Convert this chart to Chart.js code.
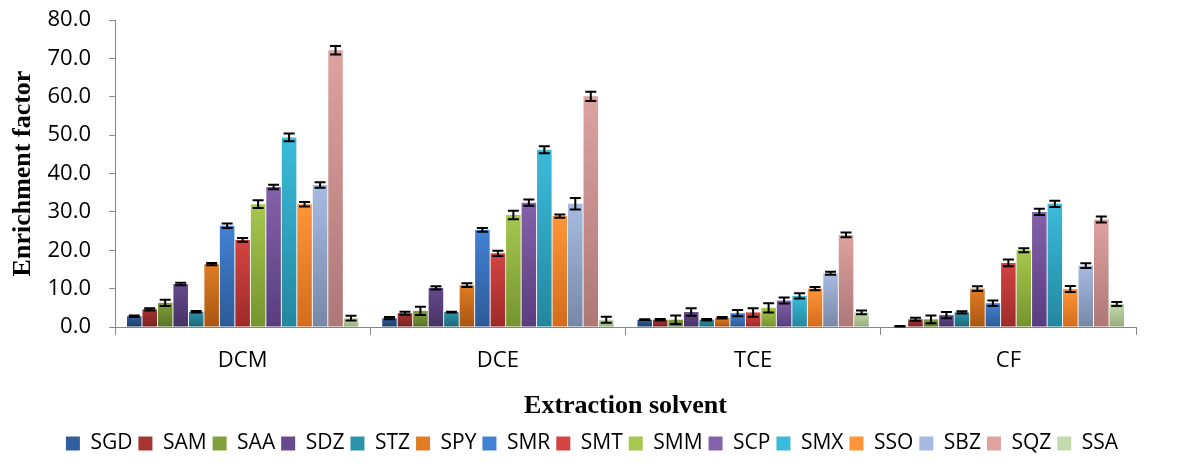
<!DOCTYPE html>
<html>
<head>
<meta charset="utf-8">
<script src="https://cdn.jsdelivr.net/npm/chart.js@4/dist/chart.umd.min.js"></script>
<style>
  html, body { margin: 0; padding: 0; background: #fff; }
  #wrap { width: 1184px; height: 464px; position: relative; }
</style>
</head>
<body>
<div id="wrap"><canvas id="chart"></canvas></div>
<script>
// categories (x axis)
const solvents = ['DCM', 'DCE', 'TCE', 'CF'];
const yTicks = [0, 10, 20, 30, 40, 50, 60, 70, 80];

// enrichment factor per solvent [DCM, DCE, TCE, CF]
const SGD = [2.8, 2.3, 1.9, 0.2];
const SAM = [4.6, 3.6, 1.9, 2.0];
const SAA = [6.3, 4.2, 1.9, 2.0];
const SDZ = [11.2, 10.2, 3.9, 3.1];
const STZ = [4.0, 3.9, 1.9, 3.8];
const SPY = [16.4, 10.9, 2.4, 10.0];
const SMR = [26.4, 25.3, 3.6, 6.2];
const SMT = [22.7, 19.2, 3.8, 16.7];
const SMM = [32.0, 29.2, 5.0, 20.0];
const SCP = [36.5, 32.4, 6.9, 30.0];
const SMX = [49.4, 46.2, 8.1, 32.1];
const SSO = [32.0, 28.9, 10.0, 9.9];
const SBZ = [37.0, 32.1, 14.0, 16.0];
const SQZ = [72.1, 60.1, 24.0, 28.0];
const SSA = [2.3, 1.9, 3.8, 6.0];

// error bars (+/-)
const SGD_err = [0.2, 0.3, 0.1, 0.05];
const SAM_err = [0.3, 0.4, 0.2, 0.4];
const SAA_err = [0.8, 1.1, 1.1, 1.0];
const SDZ_err = [0.3, 0.4, 1.0, 0.8];
const STZ_err = [0.2, 0.1, 0.2, 0.3];
const SPY_err = [0.3, 0.5, 0.2, 0.6];
const SMR_err = [0.6, 0.5, 0.8, 0.7];
const SMT_err = [0.5, 0.7, 1.1, 0.9];
const SMM_err = [1.0, 1.1, 1.2, 0.5];
const SCP_err = [0.6, 0.8, 0.8, 0.8];
const SMX_err = [1.0, 0.9, 0.7, 0.8];
const SSO_err = [0.6, 0.4, 0.4, 0.8];
const SBZ_err = [0.7, 1.5, 0.4, 0.6];
const SQZ_err = [1.1, 1.2, 0.6, 0.8];
const SSA_err = [0.6, 0.8, 0.5, 0.5];

const series = [
  ['SGD', SGD, SGD_err, '#2f5f9e', '#1f3d66'],
  ['SAM', SAM, SAM_err, '#a83432', '#772222'],
  ['SAA', SAA, SAA_err, '#7fa03b', '#5a7328'],
  ['SDZ', SDZ, SDZ_err, '#654a8c', '#463262'],
  ['STZ', STZ, STZ_err, '#2b93ab', '#1f6878'],
  ['SPY', SPY, SPY_err, '#e07c24', '#a95612'],
  ['SMR', SMR, SMR_err, '#4282d4', '#2d5a96'],
  ['SMT', SMT, SMT_err, '#d44442', '#9e2a28'],
  ['SMM', SMM, SMM_err, '#a6c84e', '#76932f'],
  ['SCP', SCP, SCP_err, '#8461ab', '#583d7e'],
  ['SMX', SMX, SMX_err, '#3bbbdb', '#23879e'],
  ['SSO', SSO, SSO_err, '#ff9538', '#d36c1c'],
  ['SBZ', SBZ, SBZ_err, '#a7bbe2', '#7787a6'],
  ['SQZ', SQZ, SQZ_err, '#dea2a0', '#ad7876'],
  ['SSA', SSA, SSA_err, '#c4daac', '#94ad7c']
];

// vertical gradient per bar, lighter at the top (excel look)
function barFill(light, dark) {
  return function (c) {
    if (c.type !== 'data') return light;
    const ys = c.chart.scales.y;
    if (!ys || !c.parsed) return light;
    const top = ys.getPixelForValue(c.parsed.y);
    const bot = ys.getPixelForValue(0);
    if (!isFinite(top) || !isFinite(bot) || bot - top < 1) return dark;
    const g = c.chart.ctx.createLinearGradient(0, top, 0, bot);
    g.addColorStop(0, light);
    g.addColorStop(1, dark);
    return g;
  };
}

const datasets = series.map(s => ({
  label: s[0],
  data: s[1],
  errors: s[2],
  backgroundColor: barFill(s[3], s[4]),
  borderWidth: 0,
  barPercentage: 0.94,
  categoryPercentage: 0.91
}));

const errorBars = {
  id: 'errorBars',
  afterDatasetsDraw(chart) {
    const ctx = chart.ctx;
    const y = chart.scales.y;
    ctx.save();
    ctx.strokeStyle = '#000';
    ctx.lineWidth = 2;
    chart.data.datasets.forEach((ds, i) => {
      const meta = chart.getDatasetMeta(i);
      if (meta.hidden) return;
      meta.data.forEach((bar, j) => {
        const v = ds.data[j], e = ds.errors[j];
        const top = y.getPixelForValue(v + e);
        const bot = y.getPixelForValue(Math.max(0, v - e));
        const x = bar.x, w = 5.5;
        ctx.beginPath();
        ctx.moveTo(x, top); ctx.lineTo(x, bot);
        ctx.moveTo(x - w, top); ctx.lineTo(x + w, top);
        ctx.moveTo(x - w, bot); ctx.lineTo(x + w, bot);
        ctx.stroke();
      });
    });
    ctx.restore();
  }
};

const axisGrey = '#868686';

new Chart(document.getElementById('chart'), {
  type: 'bar',
  data: { labels: solvents, datasets: datasets },
  options: {
    responsive: true,
    maintainAspectRatio: false,
    animation: false,
    layout: { padding: { top: 20, right: 0, left: 0, bottom: 0 } },
    plugins: {
      tooltip: { enabled: false },
      legend: {
        position: 'bottom',
        labels: {
          color: '#000',
          boxWidth: 14,
          boxHeight: 14,
          padding: 6,
          font: { family: 'Open Sans', size: 21 },
          generateLabels(chart) {
            return series.map((s, i) => ({
              text: s[0], fillStyle: s[3], strokeStyle: s[3], lineWidth: 0,
              hidden: false, datasetIndex: i
            }));
          }
        }
      }
    },
    scales: {
      x: {
        grid: { drawOnChartArea: false, drawTicks: true, tickLength: 8, color: axisGrey, offset: true },
        border: { color: axisGrey, width: 1 },
        ticks: { color: '#000', padding: 13, font: { family: 'Open Sans', size: 22 } },
        title: {
          display: true, text: 'Extraction solvent', color: '#000',
          font: { family: 'Liberation Serif', size: 26, weight: 'bold' },
          padding: { top: 0, bottom: 5 }
        },
        afterFit(scale) { scale.height = 100; }
      },
      y: {
        min: 0, max: 80,
        afterBuildTicks(scale) { scale.ticks = yTicks.map(v => ({ value: v })); },
        grid: { drawOnChartArea: false, drawTicks: true, tickLength: 6, color: axisGrey },
        border: { color: axisGrey, width: 1 },
        ticks: {
          color: '#000', padding: 18,
          font: { family: 'Open Sans', size: 22 },
          callback: v => Number(v).toFixed(1)
        },
        title: {
          display: true, text: 'Enrichment factor', color: '#000',
          font: { family: 'Liberation Serif', size: 26, weight: 'bold' },
          padding: { top: 8, bottom: 0 }
        },
        afterFit(scale) {
          scale.width = 115;
          scale.paddingTop = 0;
          scale.paddingBottom = 0;
        }
      },
      // empty right margin so the legend centres on the whole canvas
      yRight: {
        position: 'right',
        min: 0, max: 80,
        grid: { display: false },
        border: { display: false },
        ticks: { display: false },
        afterFit(scale) {
          scale.width = 48;
          scale.paddingTop = 0;
          scale.paddingBottom = 0;
        }
      }
    }
  },
  plugins: [errorBars]
});
</script>
</body>
</html>
